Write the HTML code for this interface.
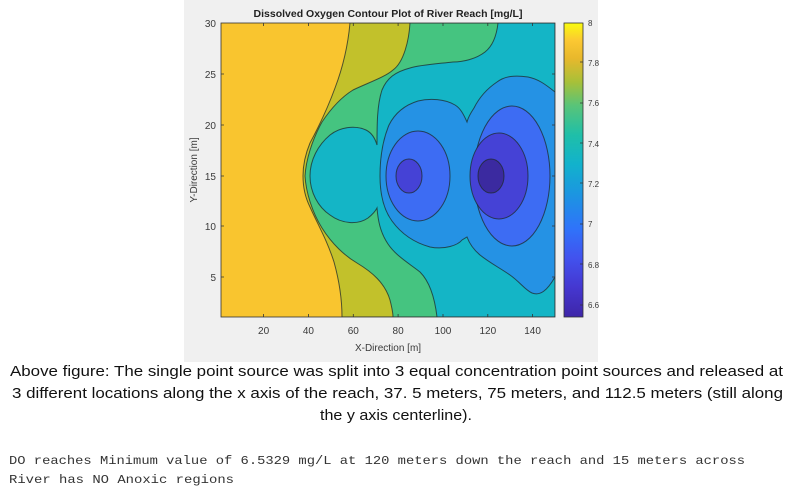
<!DOCTYPE html>
<html><head><meta charset="utf-8"><style>
body{margin:0;background:#fff;width:793px;height:498px;overflow:hidden}
svg{display:block}
</style></head><body>
<svg width="793" height="498" viewBox="0 0 793 498" xmlns="http://www.w3.org/2000/svg">
<defs>
<linearGradient id="cb" x1="0" y1="1" x2="0" y2="0">
<stop offset="0" stop-color="#3e26a8"/>
<stop offset="0.1" stop-color="#4537d0"/>
<stop offset="0.2" stop-color="#4252ee"/>
<stop offset="0.3" stop-color="#2f73fa"/>
<stop offset="0.42" stop-color="#1b96e0"/>
<stop offset="0.52" stop-color="#12b2cc"/>
<stop offset="0.62" stop-color="#1fbfa8"/>
<stop offset="0.72" stop-color="#59c478"/>
<stop offset="0.8" stop-color="#a8c038"/>
<stop offset="0.88" stop-color="#e8b82c"/>
<stop offset="0.94" stop-color="#fbc832"/>
<stop offset="1" stop-color="#f9fb0e"/>
</linearGradient>
<clipPath id="pc"><rect x="221" y="23" width="334" height="294"/></clipPath>
</defs>
<rect x="184" y="0" width="414" height="362" fill="#f0f0f0"/>
<g clip-path="url(#pc)" stroke="#1e2a2a" stroke-width="1" stroke-opacity="0.75">
<rect x="221" y="23" width="334" height="294" fill="#f9c52f" stroke="none"/>
<path fill="#c2c12b" d="M350,23 C348,45 343,67 335,88 C327,110 318,128 310,143 C305,155 303,166 303,176 C303,186 305,197 310,207 C318,225 327,240 334,262 C339,280 342,300 342,317 L555,317 L555,23 Z"/>
<path fill="#45c480" d="M410,23 C409,40 404,62 393,70 C385,77 370,82 353,90 C340,98 330,110 322,122 C312,140 306,160 305,176 C306,192 312,212 322,228 C332,244 345,256 357,263 C372,272 385,283 390,300 C392,308 393,312 393,317 L555,317 L555,23 Z"/>
<path fill="#14b5c6" d="M498,23 C497,32 494,45 485,52 C476,59 463,62 453,62 C435,64 420,65 410,68 C395,72 387,78 382,90 C377,105 377,125 377,145 C375,138 372,133 366,130 C355,125 340,127 330,135 C318,145 310,160 310,176 C310,192 318,207 330,215 C342,224 358,225 368,218 C373,214 376,210 377,208 C378,220 380,232 388,244 C396,256 410,264 420,272 C430,282 435,300 437,317 L555,317 L555,23 Z"/>
<path fill="#2592e4" d="M555,92 C545,84 538,79 528,77 C515,75 505,76 497,82 C485,90 478,100 474,108 C470,114 468,118 467,122 C463,113 460,108 455,105 C445,99 430,98 418,101 C405,105 395,113 389,125 C384,137 380,155 380,176 C380,195 384,210 392,221 C400,232 412,242 430,247 C445,250 458,245 462,240 L467,237 C470,245 474,250 480,255 C490,263 500,268 510,275 C520,282 525,290 532,293 C540,296 547,291 555,277 Z"/>
<ellipse cx="418" cy="176" rx="32" ry="45" fill="#3d6cf3"/>
<ellipse cx="512" cy="176" rx="38" ry="70" fill="#3d6cf3"/>
<ellipse cx="409" cy="176" rx="13" ry="17" fill="#4542d6"/>
<ellipse cx="499" cy="176" rx="29" ry="43" fill="#4542d6"/>
<ellipse cx="491" cy="176" rx="13" ry="17" fill="#3b2aa0"/>
</g>
<rect x="221" y="23" width="334" height="294" fill="none" stroke="#333" stroke-width="0.8"/>
<g stroke="#333" stroke-width="0.8">
<path d="M263.6,317v-3M308.4,317v-3M353.3,317v-3M398.1,317v-3M443,317v-3M487.8,317v-3M532.6,317v-3"/>
<path d="M263.6,23v3M308.4,23v3M353.3,23v3M398.1,23v3M443,23v3M487.8,23v3M532.6,23v3"/>
<path d="M221,74h3M221,125h3M221,176h3M221,226h3M221,277h3M555,74h-3M555,125h-3M555,176h-3M555,226h-3M555,277h-3"/>
</g>
<g font-family="Liberation Sans, sans-serif" font-size="10" fill="#3a3a3a">
<g text-anchor="middle">
<text x="263.6" y="334">20</text><text x="308.4" y="334">40</text><text x="353.3" y="334">60</text><text x="398.1" y="334">80</text><text x="443" y="334">100</text><text x="487.8" y="334">120</text><text x="532.6" y="334">140</text>
<text x="388" y="351">X-Direction [m]</text>
</g>
<g text-anchor="end">
<text x="216" y="27">30</text><text x="216" y="78">25</text><text x="216" y="129">20</text><text x="216" y="180">15</text><text x="216" y="230">10</text><text x="216" y="281">5</text>
</g>
<text transform="translate(197,170) rotate(-90)" text-anchor="middle">Y-Direction [m]</text>
<text x="388" y="17" text-anchor="middle" font-weight="bold" font-size="10.5" fill="#222">Dissolved Oxygen Contour Plot of River Reach [mg/L]</text>
</g>
<rect x="564" y="23" width="19" height="294" fill="url(#cb)" stroke="#333" stroke-width="0.8"/>
<g stroke="#333" stroke-width="0.8"><path d="M583,62h-3M583,103h-3M583,143h-3M583,183h-3M583,224h-3M583,264h-3M583,305h-3"/></g>
<g font-family="Liberation Sans, sans-serif" font-size="8" fill="#3a3a3a">
<text x="588" y="26">8</text><text x="588" y="66">7.8</text><text x="588" y="106">7.6</text><text x="588" y="147">7.4</text><text x="588" y="187">7.2</text><text x="588" y="227">7</text><text x="588" y="268">6.8</text><text x="588" y="308">6.6</text>
</g>
<g font-family="Liberation Sans, sans-serif" font-size="15" fill="#111">
<text x="10" y="376" textLength="773" lengthAdjust="spacingAndGlyphs">Above figure: The single point source was split into 3 equal concentration point sources and released at</text>
<text x="12" y="398" textLength="771" lengthAdjust="spacingAndGlyphs">3 different locations along the x axis of the reach, 37. 5 meters, 75 meters, and 112.5 meters (still along</text>
<text x="320" y="420" textLength="152" lengthAdjust="spacingAndGlyphs">the y axis centerline).</text>
</g>
<g font-family="Liberation Mono, monospace" font-size="12" fill="#333">
<text x="9" y="464" textLength="736" lengthAdjust="spacingAndGlyphs">DO reaches Minimum value of 6.5329 mg/L at 120 meters down the reach and 15 meters across</text>
<text x="9" y="483" textLength="225" lengthAdjust="spacingAndGlyphs">River has NO Anoxic regions</text>
</g>
</svg>
</body></html>
